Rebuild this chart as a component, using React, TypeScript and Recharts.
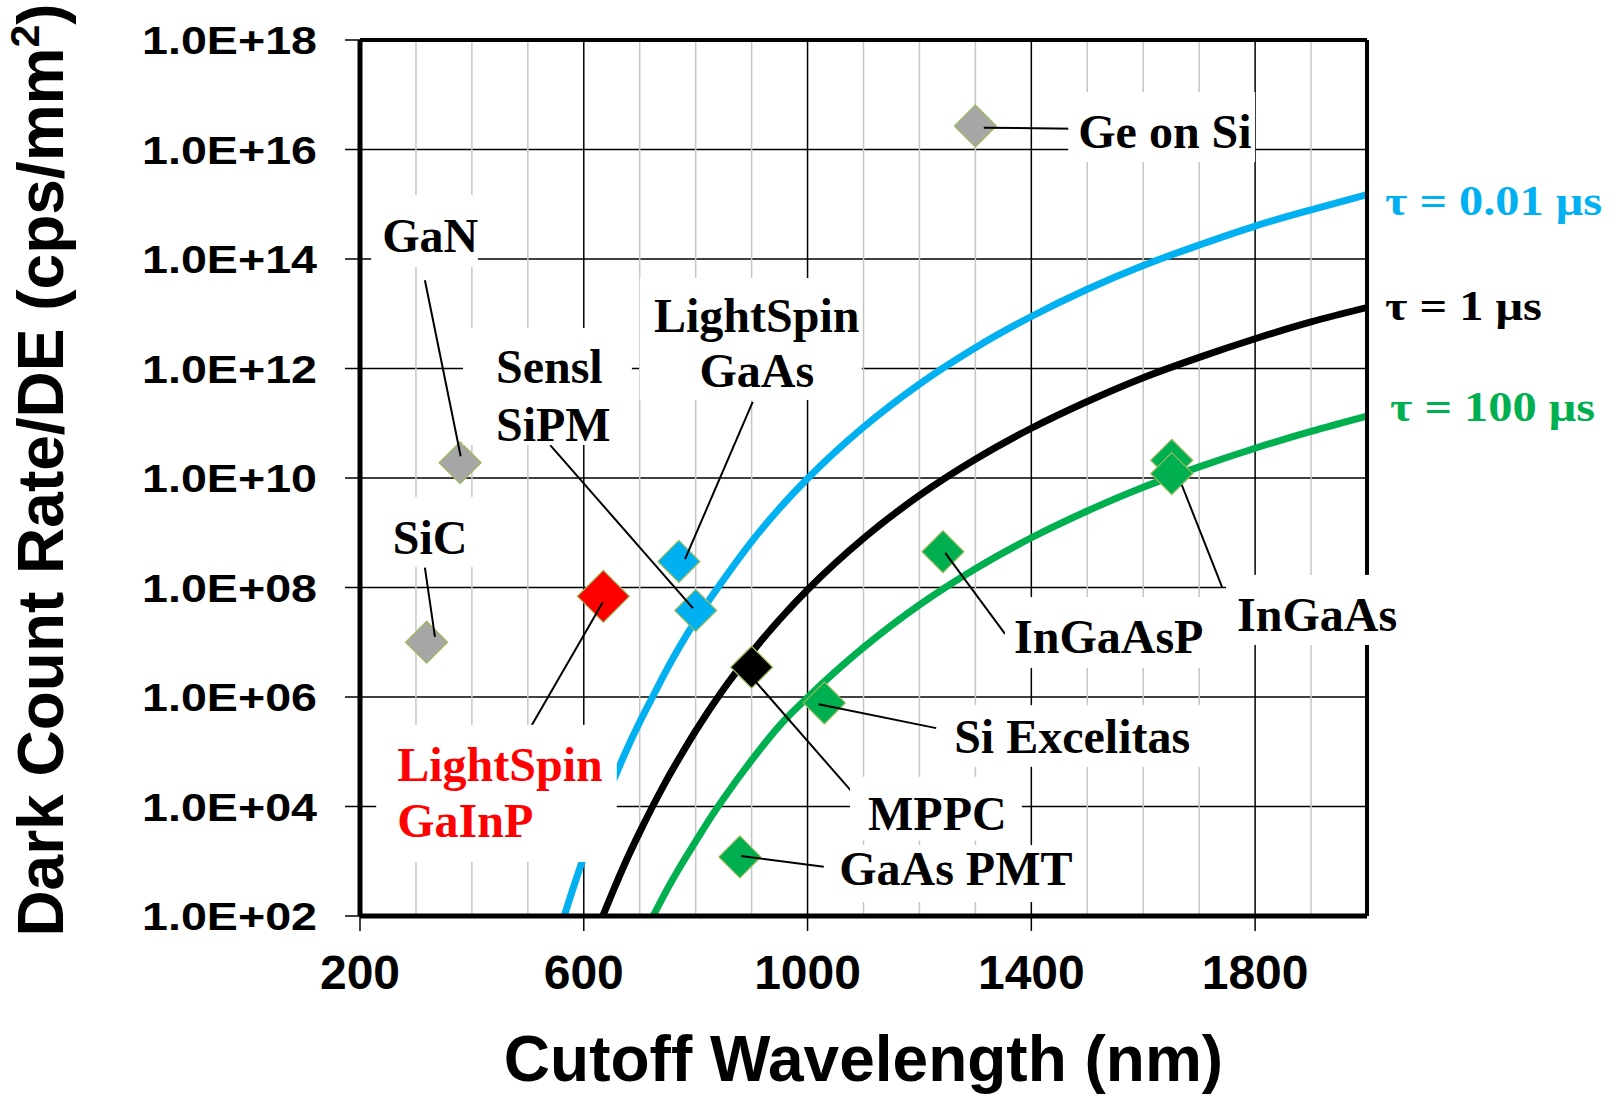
import React from 'react';
import {
    ComposedChart,
    Line,
    Scatter,
    XAxis,
    YAxis,
    CartesianGrid,
    ReferenceLine,
    ReferenceArea,
    ReferenceDot,
} from 'recharts';

const SANS = '"Liberation Sans", Arial, sans-serif';
const SERIF = '"Liberation Serif", "Times New Roman", serif';

const xTicks = [200, 600, 1000, 1400, 1800];
const xMinor = [300, 400, 500, 700, 800, 900, 1100, 1200, 1300, 1500, 1600, 1700, 1900];
const yTicks = [1e2, 1e4, 1e6, 1e8, 1e10, 1e12, 1e14, 1e16, 1e18];

// curves (cutoff wavelength nm -> cps/mm2)
const tau001 = [
    { x: 565, y: 1.0e2 }, { x: 580, y: 3.0e2 }, { x: 600, y: 1.2e3 }, { x: 625, y: 5.9e3 },
    { x: 650, y: 2.5e4 }, { x: 675, y: 1.0e5 }, { x: 700, y: 3.5e5 }, { x: 725, y: 1.1e6 },
    { x: 750, y: 3.4e6 }, { x: 800, y: 2.5e7 }, { x: 850, y: 1.4e8 }, { x: 900, y: 6.9e8 },
    { x: 950, y: 2.8e9 }, { x: 1000, y: 9.8e9 }, { x: 1100, y: 8.5e10 }, { x: 1200, y: 5.2e11 },
    { x: 1300, y: 2.4e12 }, { x: 1400, y: 8.9e12 }, { x: 1500, y: 2.8e13 }, { x: 1600, y: 7.6e13 },
    { x: 1700, y: 1.8e14 }, { x: 1800, y: 4.0e14 }, { x: 1900, y: 7.9e14 }, { x: 2000, y: 1.5e15 },
];
const tau1 = [
    { x: 634, y: 1.0e2 }, { x: 650, y: 2.5e2 }, { x: 675, y: 9.8e2 }, { x: 700, y: 3.4e3 },
    { x: 725, y: 1.1e4 }, { x: 750, y: 3.3e4 }, { x: 775, y: 9.1e4 }, { x: 800, y: 2.4e5 },
    { x: 850, y: 1.4e6 }, { x: 900, y: 6.5e6 }, { x: 950, y: 2.6e7 }, { x: 1000, y: 9.1e7 },
    { x: 1100, y: 7.9e8 }, { x: 1200, y: 4.8e9 }, { x: 1300, y: 2.2e10 }, { x: 1400, y: 8.1e10 },
    { x: 1500, y: 2.5e11 }, { x: 1600, y: 6.8e11 }, { x: 1700, y: 1.6e12 }, { x: 1800, y: 3.5e12 },
    { x: 1900, y: 7.1e12 }, { x: 2000, y: 1.3e13 },
];
const tau100 = [
    { x: 724, y: 1.0e2 }, { x: 750, y: 3.2e2 }, { x: 775, y: 8.9e2 }, { x: 800, y: 2.3e3 },
    { x: 825, y: 5.9e3 }, { x: 850, y: 1.4e4 }, { x: 900, y: 7.0e4 }, { x: 950, y: 3.0e5 },
    { x: 1000, y: 9.8e5 }, { x: 1100, y: 8.0e6 }, { x: 1200, y: 4.8e7 }, { x: 1300, y: 2.2e8 },
    { x: 1400, y: 8.1e8 }, { x: 1500, y: 2.5e9 }, { x: 1600, y: 6.8e9 }, { x: 1700, y: 1.6e10 },
    { x: 1800, y: 3.5e10 }, { x: 1900, y: 7.1e10 }, { x: 2000, y: 1.35e11 },
];

// detectors
const grayPts = [{ x: 1300, y: 2.7e16 }, { x: 379, y: 1.9e10 }, { x: 319, y: 1.0e7 }];
const bluePts = [{ x: 770, y: 3.0e8 }, { x: 800, y: 3.8e7 }];
const redPts = [{ x: 635, y: 6.9e7 }];
const blackPts = [{ x: 900, y: 3.5e6 }];
const greenPts = [
    { x: 1030, y: 7.8e5 }, { x: 879, y: 1.2e3 }, { x: 1242, y: 4.5e8 },
    { x: 1651, y: 2.1e10 }, { x: 1651, y: 1.2e10 },
];

// label boxes (data units) and text offsets inside the box (px)
const notes = [
    { lines: ['Ge on Si'], color: '#000', x1: 1466, x2: 1800, y1: 5.9e15, y2: 1.12e17, dx: 10, dy: [56] },
    { lines: ['GaN'], color: '#000', x1: 220, x2: 411, y1: 7.1e13, y2: 1.48e15, dx: 11, dy: [57] },
    { lines: ['SiC'], color: '#000', x1: 239, x2: 407, y1: 2.37e8, y2: 4.5e9, dx: 11, dy: [57] },
    { lines: ['Sensl', 'SiPM'], color: '#000', x1: 384, x2: 686, y1: 4.0e10, y2: 5.5e12, dx: 33, dy: [55, 113] },
    { lines: ['LightSpin', 'GaAs'], color: '#000', x1: 700, x2: 1097, y1: 2.66e11, y2: 4.5e13, dx: 117, dy: [54, 109], mid: true },
    { lines: ['LightSpin', 'GaInP'], color: '#ff0000', x1: 229, x2: 659, y1: 9.7e2, y2: 3.1e5, dx: 21, dy: [56, 112] },
    { lines: ['InGaAsP'], color: '#000', x1: 1353, x2: 1728, y1: 3.4e6, y2: 6.7e7, dx: 9, dy: [56] },
    { lines: ['InGaAs'], color: '#000', x1: 1748, x2: 2059, y1: 8.9e6, y2: 1.7e8, dx: 11, dy: [56] },
    { lines: ['Si Excelitas'], color: '#000', x1: 1246, x2: 1702, y1: 5.3e4, y2: 7.1e5, dx: 9, dy: [48] },
    { lines: ['MPPC'], color: '#000', x1: 1076, x2: 1383, y1: 2.4e3, y2: 3.5e4, dx: 18, dy: [53] },
    { lines: ['GaAs PMT'], color: '#000', x1: 1044, x2: 1478, y1: 1.8e2, y2: 1.98e3, dx: 7, dy: [40] },
];

const leaders = [
    [{ x: 1315, y: 2.5e16 }, { x: 1478, y: 2.4e16 }],
    [{ x: 316, y: 4.1e13 }, { x: 380, y: 2.5e10 }],
    [{ x: 316, y: 2.3e8 }, { x: 334, y: 1.25e7 }],
    [{ x: 540, y: 4.0e10 }, { x: 795, y: 4.2e7 }],
    [{ x: 902, y: 2.45e11 }, { x: 781, y: 3.3e8 }],
    [{ x: 500, y: 2.3e5 }, { x: 634, y: 5.4e7 }],
    [{ x: 1353, y: 1.42e7 }, { x: 1246, y: 4.3e8 }],
    [{ x: 1741, y: 1.02e8 }, { x: 1669, y: 7.45e9 }],
    [{ x: 1230, y: 2.7e5 }, { x: 1020, y: 7.4e5 }],
    [{ x: 1081, y: 1.77e4 }, { x: 902, y: 2.2e6 }],
    [{ x: 1029, y: 7.9e2 }, { x: 881, y: 1.25e3 }],
];

const tauLabels = [
    { text: 'τ = 0.01 μs', color: '#00b0f0', end: tau001[tau001.length - 1], dx: 18, dy: 20, len: 217 },
    { text: 'τ = 1 μs', color: '#000', end: tau1[tau1.length - 1], dx: 18, dy: 12, len: 157 },
    { text: 'τ = 100 μs', color: '#00b050', end: tau100[tau100.length - 1], dx: 23, dy: 5, len: 205 },
];

const diamond = (fill: string, r: number) => (p: any) => {
    const { cx, cy } = p;
    if (cx == null || cy == null) return <g />;
    return (
        <polygon
            points={`${cx},${cy - r} ${cx + r},${cy} ${cx},${cy + r} ${cx - r},${cy}`}
            fill={fill}
            stroke="#9bbb59"
            strokeWidth={1.2}
        />
    );
};

const YTick = (props: any) => {
    const { x, y, payload } = props;
    const e = Math.round(Math.log10(payload.value));
    return (
        <text x={x} y={y + 14} textAnchor="end" fontFamily={SANS} fontWeight={700} fontSize={39} fill="#000"
            textLength={175} lengthAdjust="spacingAndGlyphs">
            {`1.0E+${String(e).padStart(2, '0')}`}
        </text>
    );
};

const XTick = (props: any) => {
    const { x, y, payload } = props;
    return (
        <text x={x} y={y + 56} textAnchor="middle" fontFamily={SANS} fontWeight={700} fontSize={48} fill="#000">
            {payload.value}
        </text>
    );
};

const XTitle = (props: any) => {
    const vb = props.viewBox || { x: 360, y: 916, width: 1007, height: 178 };
    return (
        <text x={vb.x + vb.width / 2} y={vb.y + 165} textAnchor="middle" fontFamily={SANS} fontWeight={700} fontSize={64} fill="#000">
            Cutoff Wavelength (nm)
        </text>
    );
};

const YTitle = (props: any) => {
    const vb = props.viewBox || { x: 0, y: 40, width: 360, height: 876 };
    const cx = vb.x + 63;
    const cy = vb.y + vb.height / 2 - 8;
    return (
        <text x={cx} y={cy} transform={`rotate(-90 ${cx} ${cy})`} textAnchor="middle" fontFamily={SANS} fontWeight={700} fontSize={64} fill="#000">
            Dark Count Rate/DE (cps/mm<tspan dy={-24} fontSize={41}>2</tspan><tspan dy={24}>)</tspan>
        </text>
    );
};

const noteShape = (n: any) => (p: any) => (
    <g>
        <rect x={p.x} y={p.y} width={p.width} height={p.height} fill="#fff" />
        {n.lines.map((t: string, i: number) => (
            <text key={t} x={p.x + n.dx} y={p.y + n.dy[i]} textAnchor={n.mid ? 'middle' : 'start'}
                fontFamily={SERIF} fontWeight={700} fontSize={48} fill={n.color}>
                {t}
            </text>
        ))}
    </g>
);

const tauShape = (t: any) => (p: any) => (
    <text x={p.cx + t.dx} y={p.cy + t.dy} fontFamily={SERIF} fontWeight={700} fontSize={43} fill={t.color}
        textLength={t.len} lengthAdjust="spacingAndGlyphs">
        {t.text}
    </text>
);

const App: React.FC = () => {
    return (
        <div style={{ position: 'absolute', left: 0, top: 0, width: 1614, height: 1094, background: '#fff' }}>
            <ComposedChart width={1614} height={1094} margin={{ top: 40, right: 247, bottom: 0, left: 0 }}>
                <CartesianGrid stroke="#000" strokeWidth={1.5} zIndex={-100} />
                {xMinor.map(v => (
                    <ReferenceLine key={'m' + v} x={v} stroke="#c6c6c6" strokeWidth={1.5} zIndex={-50} />
                ))}
                <XAxis
                    type="number"
                    dataKey="x"
                    domain={[200, 2000]}
                    ticks={xTicks}
                    interval={0}
                    allowDataOverflow
                    height={178}
                    tickSize={15}
                    axisLine={{ stroke: '#000', strokeWidth: 5 }}
                    tickLine={{ stroke: '#000', strokeWidth: 1.5 }}
                    tick={<XTick />}
                    label={<XTitle />}
                />
                <YAxis
                    type="number"
                    dataKey="y"
                    scale="log"
                    domain={[1e2, 1e18]}
                    ticks={yTicks}
                    interval={0}
                    allowDataOverflow
                    width={360}
                    tickSize={15}
                    tickMargin={28}
                    axisLine={{ stroke: '#000', strokeWidth: 5 }}
                    tickLine={{ stroke: '#000', strokeWidth: 1.5 }}
                    tick={<YTick />}
                    label={<YTitle />}
                />
                <Line data={tau001} dataKey="y" type="monotone" stroke="#00b0f0" strokeWidth={7} dot={false} activeDot={false} isAnimationActive={false} zIndex={400} />
                <Line data={tau1} dataKey="y" type="monotone" stroke="#000" strokeWidth={7} dot={false} activeDot={false} isAnimationActive={false} zIndex={400} />
                <Line data={tau100} dataKey="y" type="monotone" stroke="#00b050" strokeWidth={7} dot={false} activeDot={false} isAnimationActive={false} zIndex={400} />
                <ReferenceLine y={1e18} stroke="#000" strokeWidth={4} zIndex={550} />
                <ReferenceLine x={2000} stroke="#000" strokeWidth={4} zIndex={550} />
                <Scatter data={grayPts} fill="#a6a6a6" shape={diamond('#a6a6a6', 21)} isAnimationActive={false} zIndex={600} />
                <Scatter data={bluePts} fill="#00b0f0" shape={diamond('#00b0f0', 21)} isAnimationActive={false} zIndex={600} />
                <Scatter data={redPts} fill="#ff0000" shape={diamond('#ff0000', 26)} isAnimationActive={false} zIndex={600} />
                <Scatter data={blackPts} fill="#000" shape={diamond('#000', 21)} isAnimationActive={false} zIndex={600} />
                <Scatter data={greenPts} fill="#00b050" shape={diamond('#00b050', 21)} isAnimationActive={false} zIndex={600} />
                {leaders.map((s, i) => (
                    <ReferenceLine key={'l' + i} segment={s} stroke="#000" strokeWidth={2} ifOverflow="visible" zIndex={700} />
                ))}
                {notes.map((n, i) => (
                    <ReferenceArea key={'n' + i} x1={n.x1} x2={n.x2} y1={n.y1} y2={n.y2} ifOverflow="visible"
                        shape={noteShape(n)} zIndex={800} />
                ))}
                {tauLabels.map((t, i) => (
                    <ReferenceDot key={'t' + i} x={t.end.x} y={t.end.y} r={0} ifOverflow="visible" shape={tauShape(t)} zIndex={900} />
                ))}
            </ComposedChart>
        </div>
    );
};

export default App;
